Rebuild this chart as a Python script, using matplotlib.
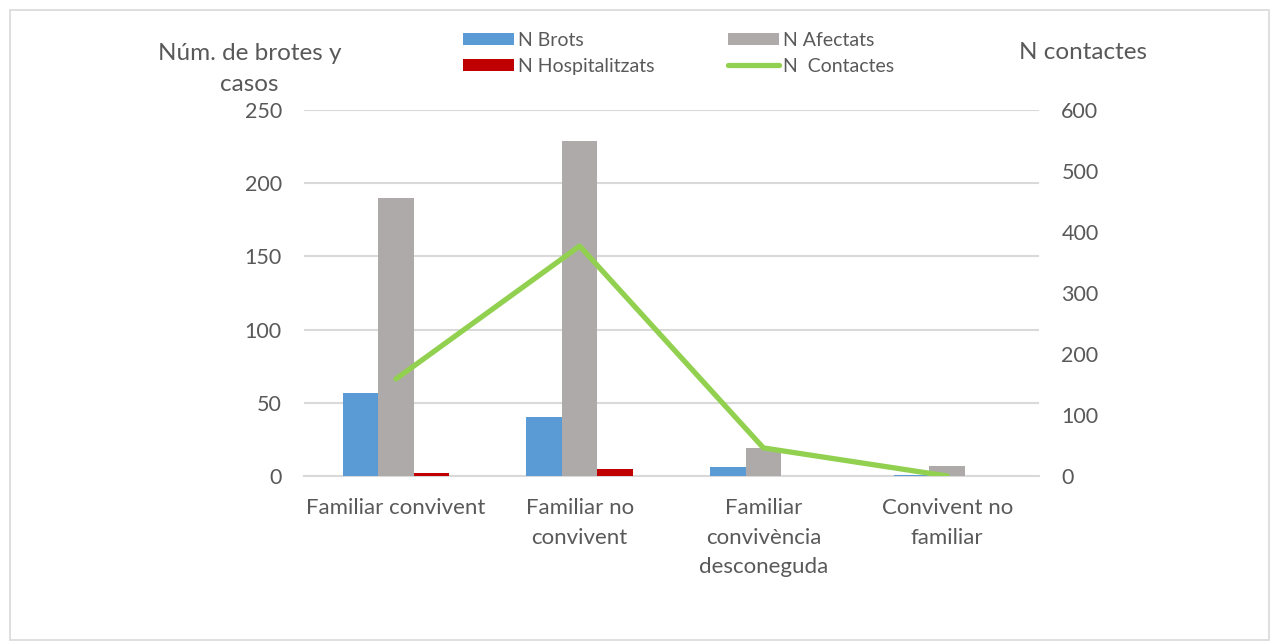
import numpy as np
import matplotlib.pyplot as plt
from matplotlib.patches import Rectangle

plt.rcParams['font.family'] = ['Lato', 'DejaVu Sans']

categories = ["Familiar convivent", "Familiar no\nconvivent",
              "Familiar\nconvivència\ndesconeguda", "Convivent no\nfamiliar"]
n_brots = [57, 40, 6, 1]
n_afectats = [190, 229, 19, 7]
n_hospitalitzats = [2, 5, 0, 0]
n_contactes = [159, 377, 46, 0]

txt = "#595959"
grid = "#d9d9d9"

fig = plt.figure(figsize=(12.79, 6.44), dpi=100)
fig.patches.append(Rectangle((0.008, 0.006), 0.984, 0.978, transform=fig.transFigure,
                             fill=False, edgecolor=grid, linewidth=1.2))

ax = fig.add_axes([0.2377, 0.2609, 0.5747, 0.5683])
x = np.arange(len(categories))
w = 0.193
b1 = ax.bar(x - w, n_brots, w, color="#5b9bd5", label="N Brots", zorder=3)
b2 = ax.bar(x, n_afectats, w, color="#aeaaaa", label="N Afectats", zorder=3)
b3 = ax.bar(x + w, n_hospitalitzats, w, color="#c00000", label="N Hospitalitzats", zorder=3)

ax.set_xlim(-0.5, 3.5)
ax.set_ylim(0, 250)
ax.set_yticks(np.arange(0, 251, 50))
ax.yaxis.grid(True, color=grid, linewidth=1.5, zorder=0)
ax.set_axisbelow(True)
for s in ["top", "right", "left"]:
    ax.spines[s].set_visible(False)
ax.spines["bottom"].set_color(grid)
ax.spines["bottom"].set_linewidth(1.5)
ax.set_xticks(x)
ax.set_xticklabels(categories, fontsize=16, color=txt, linespacing=1.6)
ax.tick_params(axis="x", length=0, pad=16)
ax.tick_params(axis="y", length=0, pad=16, labelsize=15.5, labelcolor=txt)

ax2 = ax.twinx()
l1, = ax2.plot(x, n_contactes, color="#92d050", linewidth=3.8, label="N  Contactes",
               zorder=4, solid_capstyle="round")
ax2.set_ylim(0, 600)
ax2.set_yticks(np.arange(0, 601, 100))
for s in ["top", "right", "left", "bottom"]:
    ax2.spines[s].set_visible(False)
ax2.tick_params(axis="y", length=0, pad=16, labelsize=15.5, labelcolor=txt)

fig.text(0.195, 0.893, "Núm. de brotes y\ncasos", fontsize=17.5, color=txt,
         ha="center", va="center", linespacing=1.55)
fig.text(0.8468, 0.918, "N contactes", fontsize=17.5, color=txt, ha="center", va="center")

fig.legend([b1, b3, b2, l1], ["N Brots", "N Hospitalitzats", "N Afectats", "N  Contactes"],
           ncol=2, loc="center", bbox_to_anchor=(0.5305, 0.917), frameon=False,
           fontsize=14, labelcolor=txt, handlelength=2.6, handleheight=0.55,
           columnspacing=3.8, labelspacing=0.45, handletextpad=0.2,
           borderpad=0, borderaxespad=0)

fig.savefig("out.png", dpi=100)
